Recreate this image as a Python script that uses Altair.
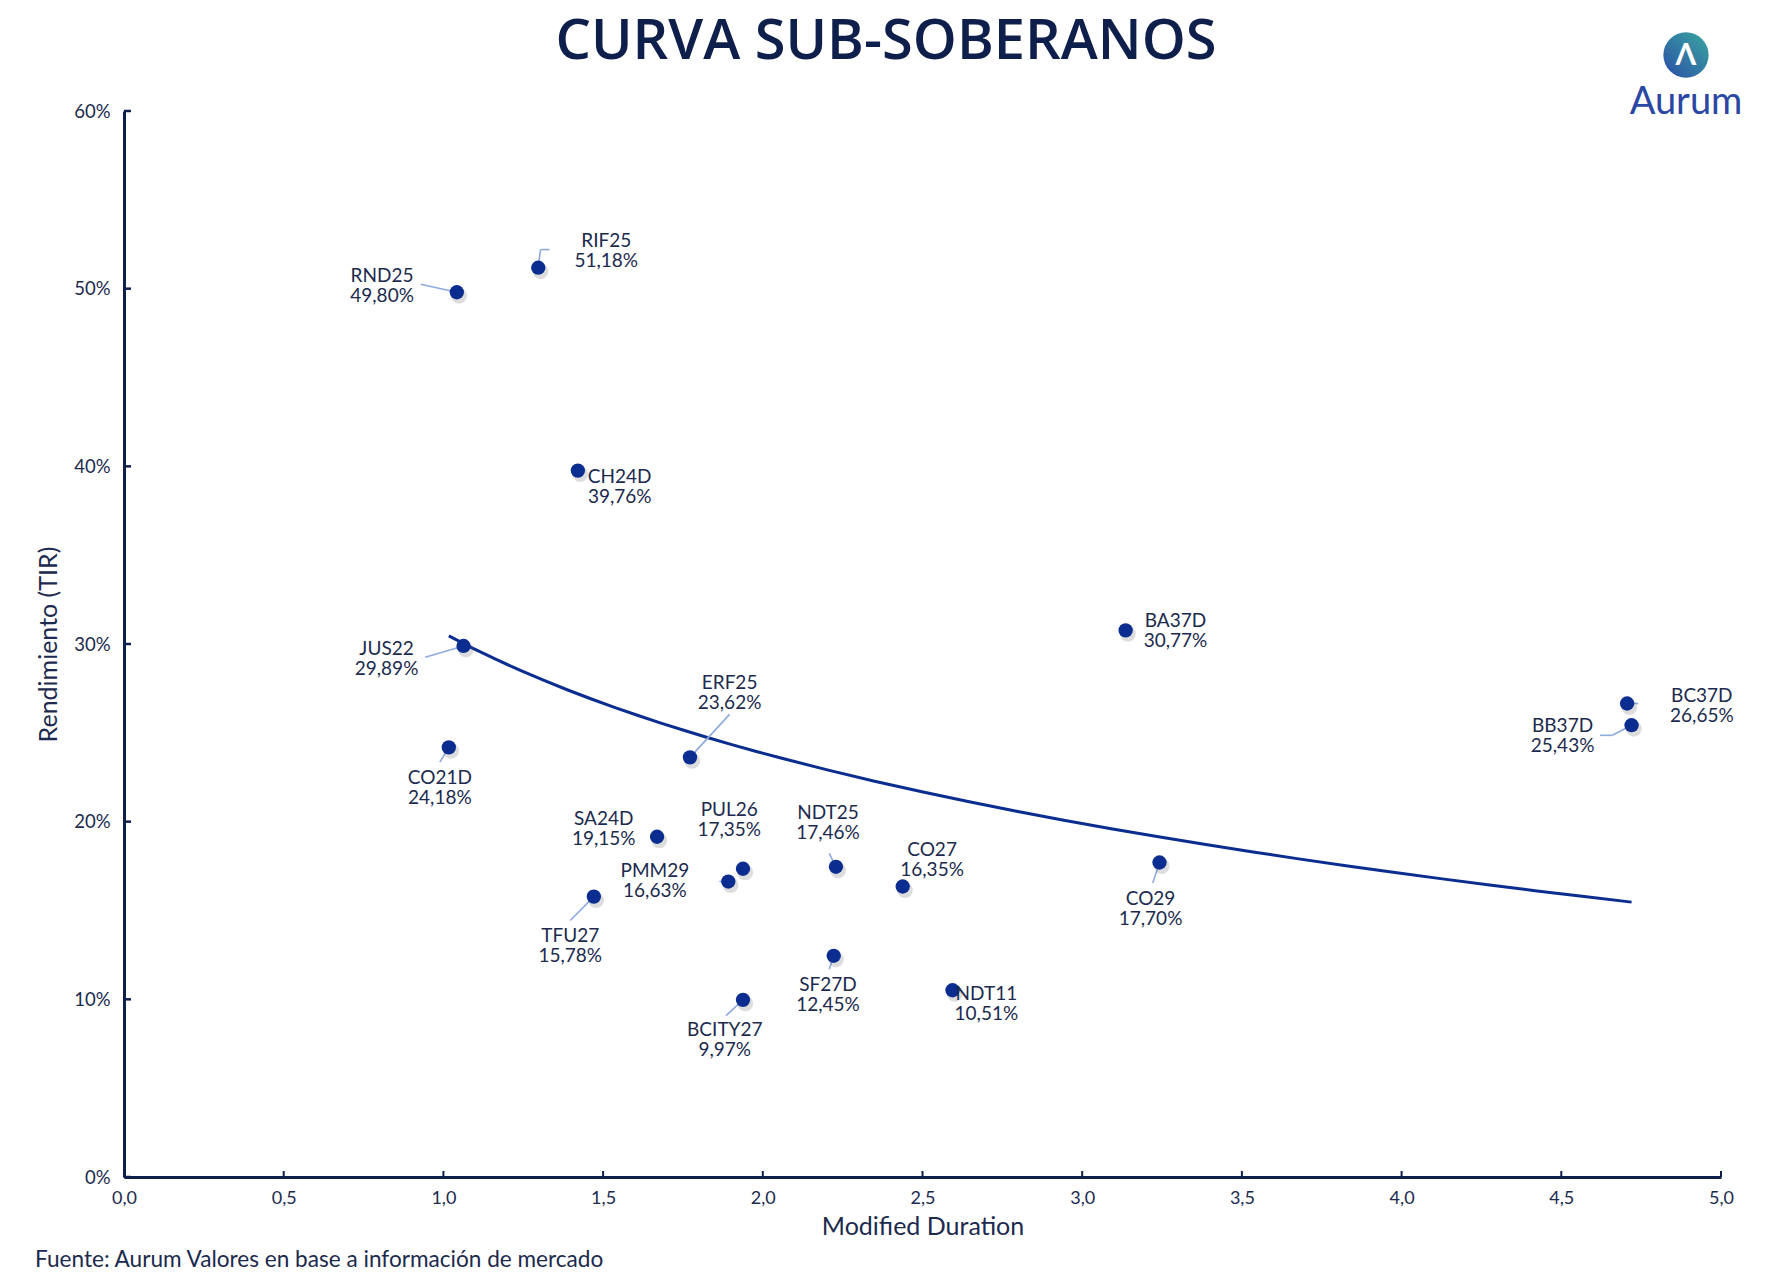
import altair as alt
import pandas as pd

# Bonos sub-soberanos: duración modificada y TIR (%)
bonos = ["RND25", "RIF25", "CH24D", "JUS22", "CO21D", "ERF25", "SA24D", "PUL26",
         "PMM29", "TFU27", "NDT25", "CO27", "SF27D", "BCITY27", "NDT11", "BA37D",
         "CO29", "BC37D", "BB37D"]
duracion = [1.042, 1.297, 1.421, 1.063, 1.017, 1.772, 1.669, 1.938,
            1.892, 1.471, 2.229, 2.438, 2.222, 1.938, 2.594, 3.136,
            3.242, 4.706, 4.720]
tir = [49.80, 51.18, 39.76, 29.89, 24.18, 23.62, 19.15, 17.35,
       16.63, 15.78, 17.46, 16.35, 12.45, 9.97, 10.51, 30.77,
       17.70, 26.65, 25.43]

# Desplazamiento de cada etiqueta respecto de su punto (unidades de los ejes)
etiqueta_dx = [-0.234, 0.213, 0.131, -0.241, -0.028, 0.124, -0.167, -0.043,
               -0.230, -0.074, -0.025, 0.092, -0.018, -0.057, 0.106, 0.156,
               -0.028, 0.234, -0.216]
etiqueta_dy = [0.45, 1.08, -0.83, -0.64, -2.17, 3.76, 0.57, 2.87,
               0.13, -2.68, 2.55, 1.59, -2.10, -2.17, -0.64, 0.06,
               -2.48, 0.0, -0.51]

# Líneas guía: (bono, dx inicio, dy inicio, dx fin, dy fin)
guias = [
    ("RND25", 0.0, 0.0, -0.113, 0.45),
    ("RIF25", 0.0, 0.0, 0.007, 1.02),
    ("RIF25", 0.007, 1.02, 0.035, 1.02),
    ("JUS22", 0.0, 0.0, -0.120, -0.64),
    ("CO21D", 0.0, 0.0, -0.028, -0.83),
    ("ERF25", 0.0, 0.0, 0.124, 2.42),
    ("PMM29", 0.0, 0.0, -0.028, 0.0),
    ("TFU27", 0.0, 0.0, -0.074, -1.34),
    ("NDT25", 0.0, 0.0, -0.021, 0.76),
    ("SF27D", 0.0, 0.0, -0.014, -0.76),
    ("BCITY27", 0.0, 0.0, -0.053, -0.89),
    ("CO29", 0.0, 0.0, -0.021, -1.15),
    ("BC37D", 0.0, 0.0, 0.035, 0.0),
    ("BB37D", 0.0, 0.0, -0.060, -0.57),
    ("BB37D", -0.060, -0.57, -0.099, -0.57),
]

x_ticks = [0.0, 0.5, 1.0, 1.5, 2.0, 2.5, 3.0, 3.5, 4.0, 4.5, 5.0]
y_ticks = [0, 10, 20, 30, 40, 50, 60]

NAVY = "#0d1f4a"
TEXT = "#1b2a4e"
DOT = "#0a2d8f"
GUIDE = "#8eaadf"
FONT = "Lato"
W, H = 1597, 1066

df = pd.DataFrame({"bono": bonos, "dur": duracion, "tir": tir})
df["etiqueta"] = [f"{b}\n{t:.2f}%".replace(".", ",") for b, t in zip(bonos, tir)]
df["lx"] = [d + o for d, o in zip(duracion, etiqueta_dx)]
df["ly"] = [t + o for t, o in zip(tir, etiqueta_dy)]

pos = dict(zip(bonos, zip(duracion, tir)))
guias_df = pd.DataFrame([
    {"x": pos[b][0] + a, "y": pos[b][1] + c, "x2": pos[b][0] + e, "y2": pos[b][1] + f}
    for b, a, c, e, f in guias
])

xs = alt.Scale(domain=[0, 5], nice=False, zero=False)
ys = alt.Scale(domain=[0, 60], nice=False)

x_axis = alt.Axis(values=x_ticks, labelExpr="replace(format(datum.value, '.1f'), '.', ',')",
                  title="Modified Duration", grid=False, ticks=False, labelFlush=False,
                  domainColor=NAVY, domainWidth=3, labelColor=TEXT, labelFontSize=18,
                  labelFont=FONT, labelPadding=12, titleFont=FONT, titleFontSize=25,
                  titleFontWeight="normal", titleColor=TEXT, titlePadding=7)
y_axis = alt.Axis(values=y_ticks, labelExpr="format(datum.value, 'd') + '%'",
                  title="Rendimiento (TIR)", grid=False, ticks=False, labelFlush=False,
                  domainColor=NAVY, domainWidth=3, labelColor=TEXT, labelFontSize=18.5,
                  labelFont=FONT, labelPadding=14, titleFont=FONT, titleFontSize=25,
                  titleFontWeight="normal", titleColor=TEXT, titlePadding=12)

base = alt.Chart(df)

ejes = base.mark_point(opacity=0).encode(
    x=alt.X("dur:Q", scale=xs, axis=x_axis),
    y=alt.Y("tir:Q", scale=ys, axis=y_axis),
)

# Marcas de escala hacia el interior del área
ticks_x = alt.Chart(pd.DataFrame({"v": x_ticks})).mark_rule(color=NAVY, strokeWidth=2).encode(
    x=alt.X("v:Q", scale=xs), y=alt.value(H), y2=alt.value(H - 6))
ticks_y = alt.Chart(pd.DataFrame({"v": y_ticks})).mark_rule(color=NAVY, strokeWidth=2.5).encode(
    y=alt.Y("v:Q", scale=ys), x=alt.value(0), x2=alt.value(7))

tendencia = base.transform_regression("dur", "tir", method="log").mark_line(
    color=DOT, strokeWidth=3).encode(
    x=alt.X("dur:Q", scale=xs), y=alt.Y("tir:Q", scale=ys))

lineas_guia = alt.Chart(guias_df).mark_rule(color=GUIDE, strokeWidth=1.6).encode(
    x=alt.X("x:Q", scale=xs), y=alt.Y("y:Q", scale=ys), x2="x2:Q", y2="y2:Q")

sombra = base.transform_calculate(
    sx="datum.dur + 0.007", sy="datum.tir - 0.2"
).mark_circle(size=250, color="#555555", opacity=0.2).encode(
    x=alt.X("sx:Q", scale=xs), y=alt.Y("sy:Q", scale=ys))

puntos = base.mark_circle(size=205, color=DOT, opacity=1).encode(
    x=alt.X("dur:Q", scale=xs), y=alt.Y("tir:Q", scale=ys))

etiquetas = base.mark_text(font=FONT, fontSize=19, lineHeight=20, lineBreak="\n",
                           color=TEXT, align="center", baseline="middle", dy=-8).encode(
    x=alt.X("lx:Q", scale=xs), y=alt.Y("ly:Q", scale=ys), text="etiqueta:N")

uno = pd.DataFrame({"k": [0]})
titulo = alt.Chart(uno).mark_text(text="CURVA SUB-SOBERANOS", font="Open Sans", fontSize=56,
                                  fontWeight=600, color=NAVY, align="center",
                                  baseline="middle").encode(
    x=alt.value(762), y=alt.value(-69))

fuente = alt.Chart(uno).mark_text(text="Fuente: Aurum Valores en base a información de mercado",
                                  font=FONT, fontSize=22.6, color=TEXT, align="left",
                                  baseline="middle").encode(
    x=alt.value(-89), y=alt.value(1149))

logo_circulo = alt.Chart(uno).mark_circle(
    size=2050, opacity=1,
    fill=alt.Gradient(gradient="linear", x1=1, y1=0, x2=0, y2=1,
                      stops=[alt.GradientStop(color="#3aa7a0", offset=0),
                             alt.GradientStop(color="#2b4ea6", offset=1)]),
).encode(x=alt.value(1562), y=alt.value(-56))
logo_icono = alt.Chart(uno).mark_text(text="Λ", font=FONT, fontSize=30, fontWeight="bold",
                                      color="white", align="center", baseline="middle").encode(
    x=alt.value(1562), y=alt.value(-55))
logo_texto = alt.Chart(uno).mark_text(text="Aurum", font=FONT, fontSize=38, color="#2a47a3",
                                      align="center", baseline="middle").encode(
    x=alt.value(1562), y=alt.value(-8))

chart = alt.layer(
    ejes, ticks_x, ticks_y, tendencia, lineas_guia, sombra, puntos, etiquetas,
    titulo, fuente, logo_circulo, logo_icono, logo_texto
).properties(
    width=W, height=H,
    background="white",
    padding={"left": 124, "top": 111, "right": 54, "bottom": 111},
    autosize=alt.AutoSizeParams(type="none"),
).configure_view(stroke="transparent", strokeWidth=0)

chart.save("out.html", embed_options={"renderer": "svg", "actions": False})
